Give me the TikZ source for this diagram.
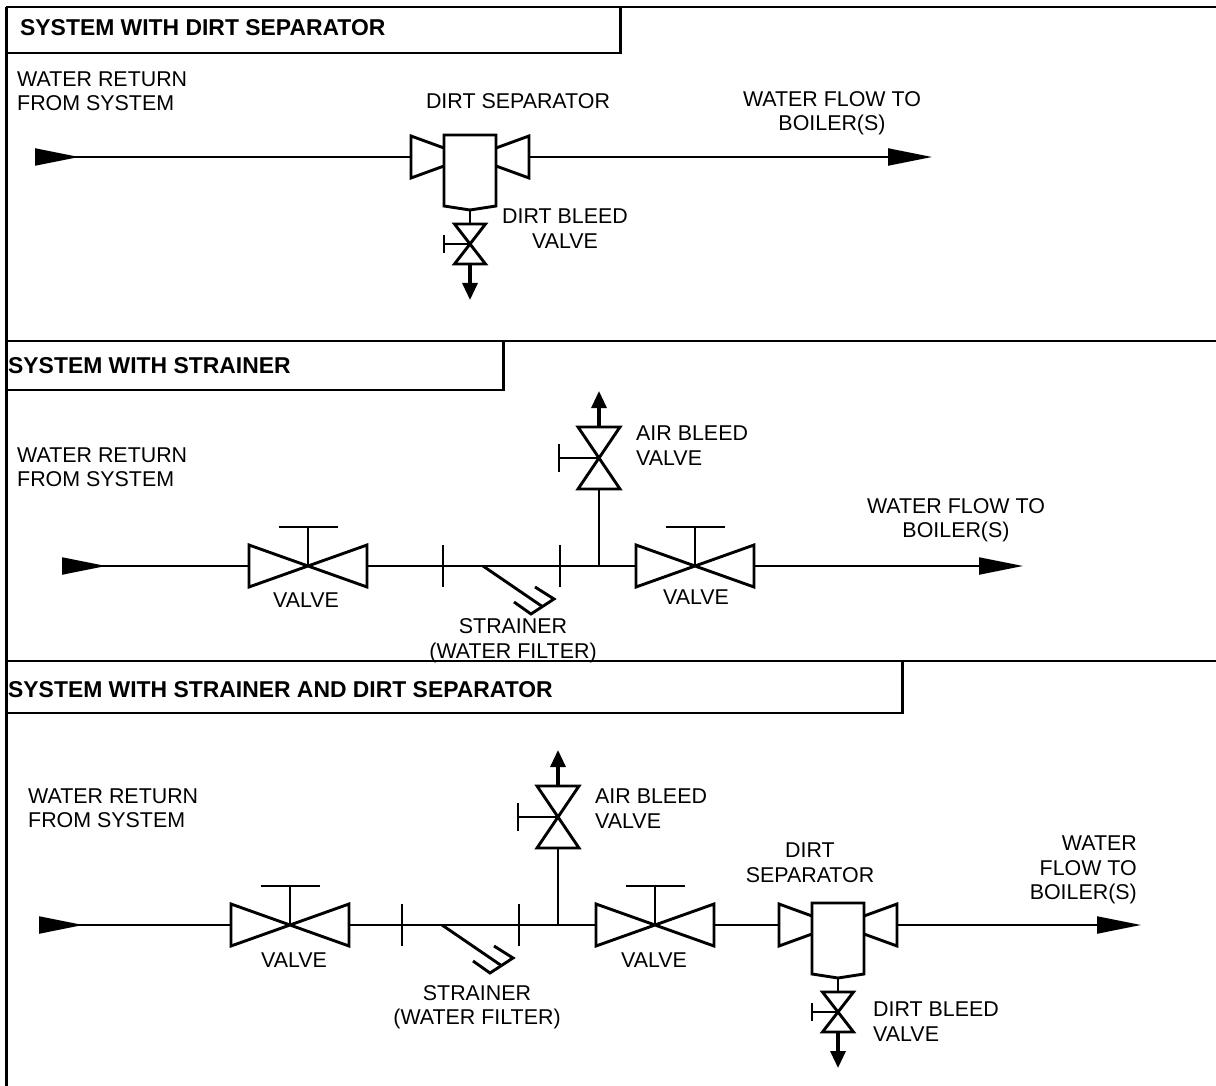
\documentclass[tikz,border=0pt]{standalone}
\usepackage{fontspec}
\setmainfont{Liberation Sans}
\usepackage{tikz}
\usetikzlibrary{arrows.meta,positioning}
\tikzset{
  pipe/.style={line width=2.1pt},
  frameline/.style={line width=2.3pt},
  framepost/.style={line width=3pt},
  symline/.style={line width=2.9pt},
  barline/.style={line width=2.2pt},
  inflow/.style={pipe,{Triangle[reversed,length=44pt,width=17pt]}-},
  outflow/.style={pipe,-{Triangle[length=44pt,width=17pt]}},
  bleed/.style={line width=3.2pt,-{Triangle[length=17pt,width=15pt]}},
  title/.style={anchor=west,font=\fontsize{22.9}{27}\selectfont\bfseries},
  gatevalve/.pic={
    \coordinate (-in) at (-59,0);
    \coordinate (-out) at (59,0);
    \draw[symline] (-59,-21) -- (59,21) -- (59,-21) -- (-59,21) -- cycle;
    \draw[symline] (0,0) -- (0,-39);
    \draw[barline] (-29.5,-39) -- (29.5,-39);
  },
  bleedvalve/.pic={
    \coordinate (-in) at (0,-20);
    \coordinate (-out) at (0,20);
    \draw[symline] (-15.5,-20) -- (15.5,20) -- (-15.5,20) -- (15.5,-20) -- cycle;
    \draw[barline] (0,0) -- (-26,0);
    \draw[symline] (-26,-9) -- (-26,9);
  },
  airvalve/.pic={
    \coordinate (-in) at (0,31);
    \coordinate (-out) at (0,-31);
    \draw[symline] (-21,-31) -- (21,31) -- (-21,31) -- (21,-31) -- cycle;
    \draw[barline] (0,0) -- (-40,0);
    \draw[symline] (-40,-14) -- (-40,14);
  },
  separator/.pic={
    \coordinate (-in) at (-59,0);
    \coordinate (-out) at (59,0);
    \coordinate (-drain) at (0,53);
    \draw[symline] (-26,-9) -- (-59,-21) -- (-59,21) -- (-26,9);
    \draw[symline] (26,-9) -- (59,-21) -- (59,21) -- (26,9);
    \draw[symline] (-26,49) -- (-26,-22) -- (26,-22) -- (26,49) -- (0,53) -- cycle;
  },
  strainer/.pic={
    \draw[symline] (0,0) -- (60,41);
    \draw[symline] (52,21) -- (71,33) -- (48,48) -- (31,36);
    \draw[symline] (-40,-21) -- (-40,21) (77,-21) -- (77,21);
  }
}

\begin{document}
\begin{tikzpicture}[x=1pt,y=-1pt,
  every node/.style={inner sep=0pt,font=\fontsize{21.4}{24.5}\selectfont}]
  \useasboundingbox (0,0) rectangle (1216,1086);

  % Frame and title boxes
  \coordinate (frameTL) at (6,7);
  \coordinate (frameTR) at (1216,7);
  \coordinate (frameBL) at (6,1086);
  \draw[framepost] (frameBL) -- (frameTL);
  \draw[line width=2.8pt] (frameTL) -- (frameTR);
  \draw[frameline] (6,53) -- (620,53);
  \draw[framepost] (620,54) -- (620,7);
  \draw[frameline] (6,341) -- (1216,341);
  \draw[frameline] (6,390) -- (503,390);
  \draw[framepost] (503,391) -- (503,341);
  \draw[frameline] (6,661) -- (1216,661);
  \draw[frameline] (6,713) -- (902,713);
  \draw[framepost] (902,714) -- (902,661);

  \node[title] (titleA) at (20,28) {SYSTEM WITH DIRT SEPARATOR};
  \node[title] (titleB) at (8,366) {SYSTEM WITH STRAINER};
  \node[title] (titleC) at (8,690) {SYSTEM WITH STRAINER AND DIRT SEPARATOR};

  % System with dirt separator
  \coordinate (retA) at (35,157);
  \coordinate (flowA) at (932,157);
  \pic (sepA) at (470,157) {separator};
  \pic (dbvA) at (470,244) {bleedvalve};
  \coordinate (dumpA) at (470,300);
  \draw[inflow] (retA) -- (sepA-in);
  \draw[outflow] (sepA-out) -- (flowA);
  \draw[symline] (sepA-drain) -- (dbvA-in);
  \draw[bleed] (dbvA-out) -- (dumpA);

  \node[anchor=west,align=left] (retlabelA) at (17,91) {WATER RETURN\\FROM SYSTEM};
  \node[align=center] (seplabelA) at (518,101) {DIRT SEPARATOR};
  \node[align=center] (flowlabelA) at (832,113) {WATER FLOW TO\\BOILER(S)};
  \node[align=center] (dbvlabelA) at (565,228.5) {DIRT BLEED\\VALVE};

  % System with strainer
  \coordinate (retB) at (62,566);
  \coordinate (flowB) at (1023,566);
  \coordinate (teeB) at (599,566);
  \coordinate (ventB) at (599,391);
  \pic (vlvBa) at (308,566) {gatevalve};
  \pic at (483,566) {strainer};
  \pic (vlvBb) at (695,566) {gatevalve};
  \pic (abvB) at (599,458) {airvalve};
  \draw[inflow] (retB) -- (vlvBa-in);
  \draw[pipe] (vlvBa-out) -- (vlvBb-in);
  \draw[outflow] (vlvBb-out) -- (flowB);
  \draw[symline] (teeB) -- (abvB-in);
  \draw[bleed] (abvB-out) -- (ventB);

  \node[anchor=west,align=left] (retlabelB) at (17,467) {WATER RETURN\\FROM SYSTEM};
  \node[anchor=west,align=left] (abvlabelB) at (636,445.5) {AIR BLEED\\VALVE};
  \node[align=center] (flowlabelB) at (956,520) {WATER FLOW TO\\BOILER(S)};
  \node (vlvlabelBa) at (306,600) {VALVE};
  \node (vlvlabelBb) at (696,597) {VALVE};
  \node[align=center] (strlabelB) at (513,640.5) {STRAINER\\(WATER FILTER)};

  % System with strainer and dirt separator
  \coordinate (retC) at (39,925);
  \coordinate (flowC) at (1141,925);
  \coordinate (teeC) at (558,925);
  \coordinate (ventC) at (558,750);
  \pic (vlvCa) at (290,925) {gatevalve};
  \pic at (442,925) {strainer};
  \pic (vlvCb) at (655,925) {gatevalve};
  \pic (abvC) at (558,817) {airvalve};
  \pic (sepC) at (838,925) {separator};
  \pic (dbvC) at (838,1012) {bleedvalve};
  \coordinate (dumpC) at (838,1068);
  \draw[inflow] (retC) -- (vlvCa-in);
  \draw[pipe] (vlvCa-out) -- (vlvCb-in);
  \draw[pipe] (vlvCb-out) -- (sepC-in);
  \draw[outflow] (sepC-out) -- (flowC);
  \draw[symline] (teeC) -- (abvC-in);
  \draw[bleed] (abvC-out) -- (ventC);
  \draw[symline] (sepC-drain) -- (dbvC-in);
  \draw[bleed] (dbvC-out) -- (dumpC);

  \node[anchor=west,align=left] (retlabelC) at (28,808) {WATER RETURN\\FROM SYSTEM};
  \node[anchor=west,align=left] (abvlabelC) at (595,808.5) {AIR BLEED\\VALVE};
  \node[align=center] (seplabelC) at (810,862.5) {DIRT\\SEPARATOR};
  \node[anchor=east,align=right] (flowlabelC) at (1137,870) {WATER\\FLOW TO\\BOILER(S)};
  \node (vlvlabelCa) at (294,960) {VALVE};
  \node (vlvlabelCb) at (654,960) {VALVE};
  \node[align=center] (strlabelC) at (477,1007) {STRAINER\\(WATER FILTER)};
  \node[anchor=west,align=left] (dbvlabelC) at (873,1021.5) {DIRT BLEED\\VALVE};
\end{tikzpicture}
\end{document}
